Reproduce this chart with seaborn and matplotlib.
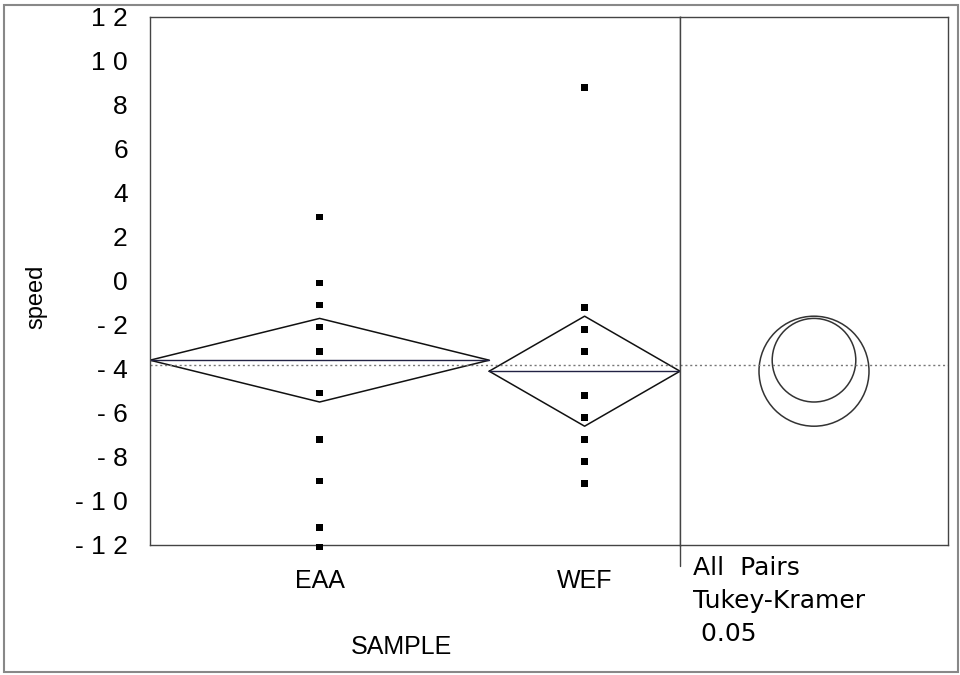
import numpy as np
import pandas as pd
import seaborn as sns
import matplotlib
matplotlib.use("Agg")
import matplotlib.pyplot as plt
from matplotlib.patches import Circle, Rectangle

# data (JMP oneway with means diamonds)
groups = ["EAA", "WEF"]
group_n = [16, 9]
group_means = [-3.6, -4.1]
ci_half = [1.9, 2.5]          # diamond half height = comparison circle radius
grand_mean = -3.8
eaa_speed = [2.9, -0.1, -1.1, -2.1, -3.2, -5.1, -7.2, -9.1, -11.2, -12.1]
wef_speed = [8.8, -1.2, -2.2, -3.2, -5.2, -6.2, -7.2, -8.2, -9.2]
y_ticks = list(range(-12, 13, 2))
notes = ["All  Pairs", "Tukey-Kramer", " 0.05"]

sns.set_style("white")
plt.rcParams["font.family"] = ["Liberation Sans", "DejaVu Sans"]
for k in ["text.color", "axes.labelcolor", "xtick.color", "ytick.color"]:
    plt.rcParams[k] = "black"

fig = plt.figure(figsize=(9.6, 6.75), dpi=100)
ax = fig.add_axes([150 / 960, 1 - 545 / 675, 530 / 960, 528 / 675])
ax2 = fig.add_axes([680 / 960, 1 - 545 / 675, 268 / 960, 528 / 675], sharey=ax)

# group spans proportional to n
edges = np.concatenate([[0], np.cumsum(group_n)])
centers = (edges[:-1] + edges[1:]) / 2

df = pd.DataFrame({
    "SAMPLE": ["EAA"] * len(eaa_speed) + ["WEF"] * len(wef_speed),
    "speed": eaa_speed + wef_speed,
})
df["xpos"] = df["SAMPLE"].map(dict(zip(groups, centers)))

sns.scatterplot(data=df, x="xpos", y="speed", marker="s", s=20, color="black",
                edgecolor="none", ax=ax, clip_on=False, zorder=3)

# means diamonds
for i, g in enumerate(groups):
    x0, x1, xc = edges[i], edges[i + 1], centers[i]
    m, h = group_means[i], ci_half[i]
    ax.plot([x0, xc, x1, xc, x0], [m, m + h, m, m - h, m], color="#111111", lw=1.1)
    ax.plot([x0, x1], [m, m], color="#222244", lw=1.0)

ax.axhline(grand_mean, color="#777777", lw=1.0, ls=(0, (1.5, 2)))
ax2.axhline(grand_mean, color="#777777", lw=1.0, ls=(0, (1.5, 2)))

ax.set_xlim(edges[0], edges[-1])
ax.set_ylim(-12, 12)
ax.set_yticks(y_ticks)
ax.set_yticklabels([" ".join(str(v)) for v in y_ticks], fontsize=19)
ax.set_xticks(centers)
ax.set_xticklabels(groups, fontsize=18)
ax.set_xticks(edges[1:-1], minor=True)
ax.tick_params(axis="x", which="major", length=0, pad=17)
ax.tick_params(axis="x", which="minor", length=10, width=1, color="#333333")
ax.tick_params(axis="y", length=12, width=1, color="#555555", pad=4)
ax.set_xlabel("SAMPLE", fontsize=18)
ax.set_ylabel("speed", fontsize=17)
ax.xaxis.set_label_coords((401 - 150) / 530, -0.17)
ax.yaxis.set_label_coords(-(150 - 47) / 530, 0.47)

# comparison circles
xc2 = 268 / 22 / 2
ax2.set_xlim(0, 268 / 22)
for m, r in zip(group_means, ci_half):
    ax2.add_patch(Circle((xc2, m), r, fill=False, ec="#333333", lw=1.1))
ax2.plot([0, 0], [-12, -12.95], color="#444444", lw=1.0, clip_on=False)
ax2.tick_params(left=False, labelleft=False, bottom=False, labelbottom=False)

for a in (ax, ax2):
    for s in a.spines.values():
        s.set_visible(True)
        s.set_color("#444444")
        s.set_linewidth(1.0)

for k, t in enumerate(notes):
    fig.text(693 / 960, 1 - (568 + 33 * k) / 675, t, fontsize=18,
             family=["DejaVu Sans"], va="center", ha="left")

fig.patches.append(Rectangle((4 / 960, 1 - 672 / 675), 954 / 960, 667 / 675,
                             transform=fig.transFigure, fill=False,
                             ec="#888888", lw=1.5))

fig.savefig("out.png", dpi=100)
